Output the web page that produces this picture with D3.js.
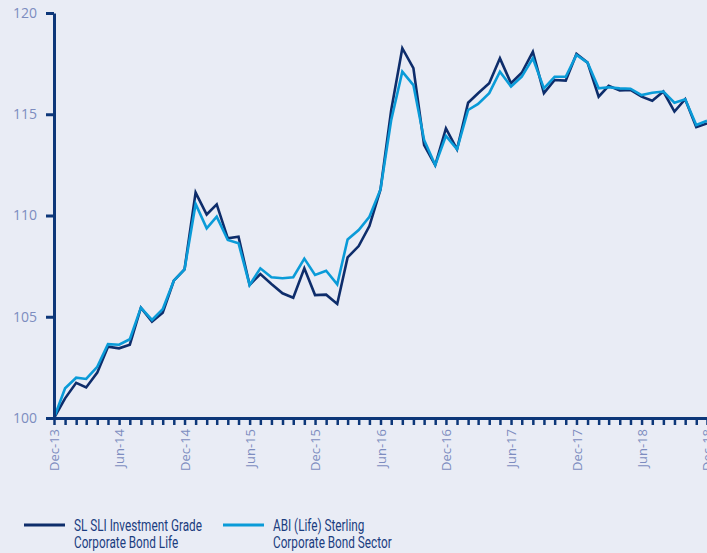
<!DOCTYPE html>
<html>
<head>
<meta charset="utf-8">
<script src="https://cdn.jsdelivr.net/npm/d3@7"></script>
<style>
  html, body { margin: 0; padding: 0; background: #e9ecf5; }
  svg { display: block; }
</style>
</head>
<body>
<svg id="drawing_region"></svg>
<script>
// monthly index values, Dec-13 .. Dec-18
const startMonth = new Date(2013, 11, 1);
const fundValues = [
    100.00, 100.97, 101.74, 101.51, 102.24, 103.52, 103.44, 103.62, 105.45, 104.76,
    105.20, 106.78, 107.34, 111.13, 110.05, 110.55, 108.87, 108.95, 106.57, 107.11,
    106.62, 106.16, 105.94, 107.39, 106.07, 106.09, 105.63, 107.93, 108.49, 109.48,
    111.29, 115.21, 118.26, 117.28, 113.48, 112.49, 114.30, 113.27, 115.57, 116.04,
    116.53, 117.76, 116.53, 117.05, 118.08, 116.04, 116.69, 116.66, 117.98, 117.55,
    115.87, 116.40, 116.17, 116.20, 115.87, 115.67, 116.12, 115.13, 115.74, 114.36,
    114.55
];
const sectorValues = [
    100.00, 101.47, 101.99, 101.93, 102.53, 103.65, 103.62, 103.89, 105.45, 104.84,
    105.37, 106.78, 107.34, 110.57, 109.37, 109.94, 108.79, 108.63, 106.57, 107.39,
    106.95, 106.90, 106.95, 107.87, 107.06, 107.27, 106.60, 108.82, 109.28, 109.94,
    111.29, 114.72, 117.10, 116.44, 113.73, 112.49, 113.93, 113.27, 115.21, 115.51,
    116.04, 117.10, 116.37, 116.85, 117.76, 116.28, 116.85, 116.85, 117.93, 117.55,
    116.28, 116.33, 116.28, 116.26, 115.95, 116.06, 116.12, 115.57, 115.74, 114.47,
    114.68
];
const seriesNames = [
    ["SL SLI Investment Grade", "Corporate Bond Life"],
    ["ABI (Life) Sterling", "Corporate Bond Sector"]
];
const seriesColors = ["#0e2d6b", "#0a9bd8"];
const yTicks = [100, 105, 110, 115, 120];

const config = {
    width: 707,
    height: 553,
    margin: {top: 13, right: 0, bottom: 135, left: 54}
};

const inner_width = config.width - config.margin.left - config.margin.right;
const inner_height = config.height - config.margin.top - config.margin.bottom;

const svg = d3.select('#drawing_region')
    .attr('width', config.width)
    .attr('height', config.height);

svg.append('rect')
    .attr('width', config.width)
    .attr('height', config.height)
    .attr('fill', '#e9ecf5');

const chart = svg.append('g')
    .attr('transform', `translate(${config.margin.left}, ${config.margin.top})`);

const dates = fundValues.map((d, i) => d3.timeMonth.offset(startMonth, i));

const xscale = d3.scaleTime()
    .domain([dates[0], dates[dates.length - 1]])
    .range([0, inner_width]);

const yscale = d3.scaleLinear()
    .domain([100, 120])
    .range([inner_height, 0]);

const axisColor = '#0d3779';
const labelColor = '#7d8cbf';
const fmt = d3.timeFormat('%b-%y');

// lines
const line = d3.line()
    .x((d, i) => xscale(dates[i]))
    .y(d => yscale(d));

[fundValues, sectorValues].forEach((vals, k) => {
    chart.append('path')
        .datum(vals)
        .attr('fill', 'none')
        .attr('stroke', seriesColors[k])
        .attr('stroke-width', 2.6)
        .attr('stroke-linejoin', 'miter')
        .attr('d', line);
});

// y axis
const yaxis_group = chart.append('g')
    .call(d3.axisLeft(yscale).tickValues(yTicks).tickSize(8).tickSizeOuter(0).tickPadding(9));
yaxis_group.select('.domain')
    .attr('stroke', axisColor)
    .attr('stroke-width', 3);
yaxis_group.selectAll('.tick line')
    .attr('stroke', axisColor)
    .attr('stroke-width', 3);
yaxis_group.selectAll('.tick text')
    .attr('fill', labelColor)
    .attr('font-family', '"Open Sans", "DejaVu Sans", sans-serif')
    .attr('font-size', '14px');

// x axis
const xaxis_group = chart.append('g')
    .attr('transform', `translate(0, ${inner_height})`)
    .call(d3.axisBottom(xscale)
        .tickValues(dates)
        .tickSize(7)
        .tickSizeOuter(0)
        .tickFormat(d => (d.getMonth() === 11 || d.getMonth() === 5) ? fmt(d) : ''));
xaxis_group.select('.domain')
    .attr('stroke', axisColor)
    .attr('stroke-width', 3);
xaxis_group.selectAll('.tick line')
    .attr('stroke', axisColor)
    .attr('stroke-width', 2.5);
xaxis_group.selectAll('.tick text')
    .attr('fill', labelColor)
    .attr('font-family', '"Open Sans", "DejaVu Sans", sans-serif')
    .attr('font-size', '13px')
    .attr('text-anchor', 'end')
    .attr('transform', 'rotate(-90)')
    .attr('x', -11)
    .attr('y', 0)
    .attr('dy', '0.35em');

// legend (condensed look: squeeze the text horizontally)
const legend = svg.append('g');
const legendX = [24, 223];
const legendTextWidth = 128;
let sx = 0.75;
seriesNames.forEach((names, k) => {
    const g = legend.append('g')
        .attr('transform', `translate(${legendX[k]}, 525)`);
    g.append('line')
        .attr('x1', 0).attr('x2', 41)
        .attr('y1', 0).attr('y2', 0)
        .attr('stroke', seriesColors[k])
        .attr('stroke-width', 3);
    const tg = g.append('g')
        .attr('class', 'legend-text')
        .attr('transform', 'translate(50, 0)');
    const texts = tg.selectAll('text')
        .data(names)
        .join('text')
        .attr('x', 0)
        .attr('y', (d, i) => 6 + i * 17)
        .attr('fill', '#1b3d80')
        .attr('font-family', 'Roboto, "Liberation Sans", sans-serif')
        .attr('font-size', '17px')
        .text(d => d);
    if (k === 0) {
        const w = texts.node().getComputedTextLength();
        if (w > 0) sx = legendTextWidth / w;
    }
});
legend.selectAll('.legend-text').attr('transform', `translate(50, 0) scale(${sx}, 1)`);
</script>
</body>
</html>
